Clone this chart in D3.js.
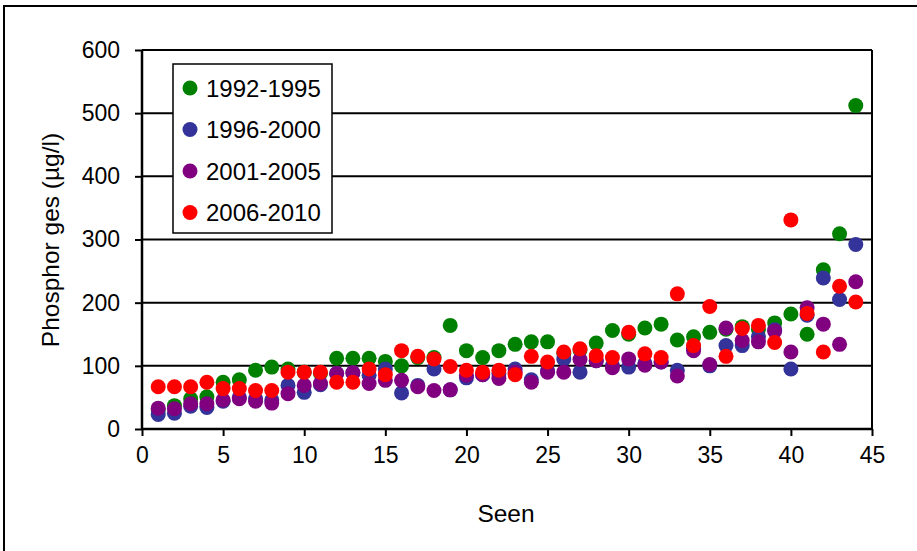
<!DOCTYPE html>
<html>
<head>
<meta charset="utf-8">
<script src="https://cdn.jsdelivr.net/npm/d3@7"></script>
<style>
  html, body { margin: 0; padding: 0; background: #fff; }
  svg { display: block; }
  text { font-family: "Liberation Sans", Arial, sans-serif; fill: #000; }
</style>
</head>
<body>
<svg id="chart" width="917" height="551"></svg>
<script>
// ---- Data ----
const seen = d3.range(1, 45);
const series1992_1995 = [30, 37, 48, 51, 74, 78, 93, 98, 95, 90, 88, 112, 112, 112, 107, 100, 113, 113, 164, 124, 113, 124, 134, 138, 138, 120, 125, 136, 156, 150, 160, 166, 141, 146, 153, 158, 162, 158, 168, 182, 150, 252, 309, 512];
const series1996_2000 = [23, 25, 36, 34, 44, 50, 48, 46, 69, 58, 70, 88, 89, 85, 95, 57, 69, 95, 62, 81, 86, 88, 95, 78, 92, 111, 90, 108, 100, 98, 104, 106, 93, 128, 100, 132, 132, 146, 157, 95, 180, 239, 205, 292];
const series2001_2005 = [33, 32, 40, 40, 46, 48, 44, 41, 56, 69, 72, 88, 89, 72, 77, 77, 67, 61, 62, 85, 86, 80, 90, 74, 90, 90, 110, 108, 97, 111, 101, 106, 84, 124, 102, 160, 140, 138, 155, 122, 192, 166, 134, 233];
const series2006_2010 = [67, 67, 67, 74, 64, 64, 61, 61, 90, 90, 90, 74, 74, 95, 86, 124, 115, 111, 99, 93, 90, 93, 86, 115, 106, 122, 127, 116, 113, 153, 119, 113, 214, 132, 194, 115, 159, 164, 137, 331, 183, 122, 226, 201];
const seriesNames = ["1992-1995", "1996-2000", "2001-2005", "2006-2010"];
const seriesColors = ["#008000", "#333399", "#800080", "#FF0000"];
const xTicks = [0, 5, 10, 15, 20, 25, 30, 35, 40, 45];
const yTicks = [0, 100, 200, 300, 400, 500, 600];

const allSeries = [series1992_1995, series1996_2000, series2001_2005, series2006_2010];

// ---- Layout ----
const svg = d3.select("#chart");
const pL = 142, pR = 872, pT = 50, pB = 429;
const x = d3.scaleLinear().domain([0, 45]).range([pL, pR]);
const y = d3.scaleLinear().domain([0, 600]).range([pB, pT]);
const FS_TICK = 23, FS_LEG = 24, FS_TITLE = 24.5;

// outer frame
svg.append("rect").attr("x", 4).attr("y", 6).attr("width", 1000).attr("height", 1000)
  .attr("fill", "#fff").attr("stroke", "#000").attr("stroke-width", 2);

// gridlines
svg.append("g").selectAll("line").data(yTicks.filter(d => d > 0)).join("line")
  .attr("x1", pL).attr("x2", pR)
  .attr("y1", d => y(d)).attr("y2", d => y(d))
  .attr("stroke", "#000").attr("stroke-width", 2);

// right border
svg.append("line").attr("x1", pR).attr("x2", pR).attr("y1", pT).attr("y2", pB)
  .attr("stroke", "#000").attr("stroke-width", 2);

// axes
const xAxis = d3.axisBottom(x).tickValues(xTicks).tickSize(7).tickPadding(11).tickFormat(d3.format("d"));
const gx = svg.append("g").attr("transform", `translate(0,${pB})`).call(xAxis);
gx.select(".domain").attr("stroke-width", 2.5).attr("d", `M${pL},0H${pR}`);
gx.selectAll(".tick line").attr("stroke-width", 2);
gx.selectAll("text").attr("font-size", FS_TICK).attr("font-family", "Liberation Sans, Arial, sans-serif");

const yAxis = d3.axisLeft(y).tickValues(yTicks).tickSize(7).tickPadding(15).tickFormat(d3.format("d"));
const gy = svg.append("g").attr("transform", `translate(${pL},0)`).call(yAxis);
gy.select(".domain").attr("stroke-width", 2.5).attr("d", `M0,${pB}V${pT}`);
gy.selectAll(".tick line").attr("stroke-width", 2);
gy.selectAll("text").attr("font-size", FS_TICK).attr("font-family", "Liberation Sans, Arial, sans-serif");

// points
allSeries.forEach((vals, si) => {
  svg.append("g").selectAll("circle").data(vals).join("circle")
    .attr("cx", (d, i) => x(seen[i]))
    .attr("cy", d => y(d))
    .attr("r", 7.5)
    .attr("fill", seriesColors[si]);
});

// axis titles
svg.append("text").attr("x", 506).attr("y", 522)
  .attr("text-anchor", "middle").attr("font-size", FS_TITLE).text("Seen");
svg.append("text").attr("transform", `translate(59,240) rotate(-90)`)
  .attr("text-anchor", "middle").attr("font-size", FS_TITLE).text("Phosphor ges (µg/l)");

// legend
const lg = svg.append("g");
lg.append("rect").attr("x", 173).attr("y", 64).attr("width", 159).attr("height", 169)
  .attr("fill", "#fff").attr("stroke", "#000").attr("stroke-width", 1.5);
seriesNames.forEach((name, i) => {
  const cy = 88 + i * 41.5;
  lg.append("circle").attr("cx", 190).attr("cy", cy).attr("r", 7.5).attr("fill", seriesColors[i]);
  lg.append("text").attr("x", 206).attr("y", cy).attr("dy", "0.36em")
    .attr("font-size", FS_LEG).text(name);
});
</script>
</body>
</html>
